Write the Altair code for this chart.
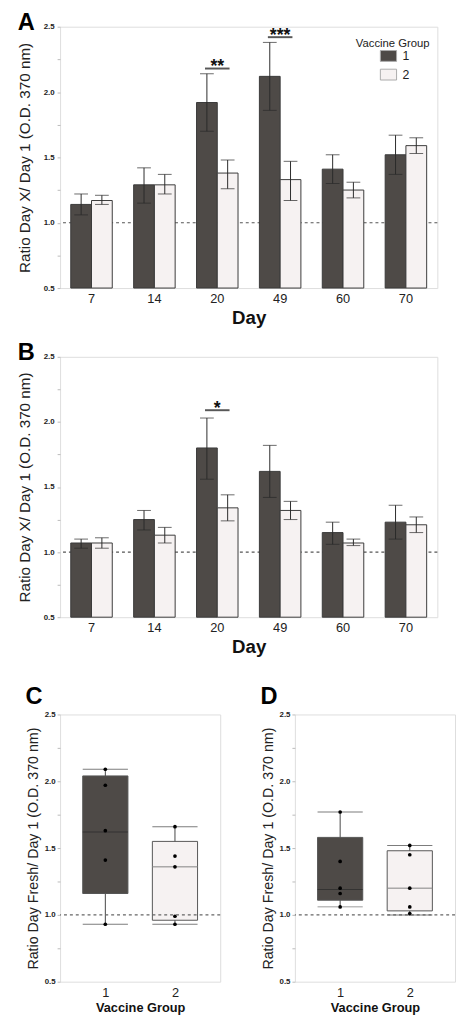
import altair as alt
import pandas as pd

FONT = "Liberation Sans"

days = ["7", "14", "20", "49", "60", "70"]
groups = ["1", "2"]

# Panel A (mean, lower and upper error limits per vaccine group)
a_g1_mean = [1.14, 1.29, 1.92, 2.12, 1.41, 1.52]
a_g1_low = [1.06, 1.15, 1.70, 1.86, 1.30, 1.37]
a_g1_high = [1.22, 1.42, 2.14, 2.38, 1.52, 1.67]
a_g2_mean = [1.17, 1.29, 1.38, 1.33, 1.25, 1.59]
a_g2_low = [1.14, 1.22, 1.26, 1.17, 1.19, 1.53]
a_g2_high = [1.21, 1.37, 1.48, 1.47, 1.31, 1.65]
a_sig_days = ["20", "49"]
a_sig_y = [2.18, 2.42]
a_sig_text = ["**", "***"]

# Panel B
b_g1_mean = [1.07, 1.25, 1.80, 1.62, 1.15, 1.23]
b_g1_low = [1.03, 1.17, 1.56, 1.42, 1.06, 1.10]
b_g1_high = [1.10, 1.32, 2.03, 1.82, 1.23, 1.36]
b_g2_mean = [1.07, 1.13, 1.34, 1.32, 1.07, 1.21]
b_g2_low = [1.03, 1.07, 1.24, 1.25, 1.05, 1.15]
b_g2_high = [1.11, 1.19, 1.44, 1.39, 1.10, 1.27]
b_sig_days = ["20"]
b_sig_y = [2.09]
b_sig_text = ["*"]

# Panel C (box statistics per group and individual points)
c_min = [0.93, 0.93]
c_q1 = [1.16, 0.96]
c_med = [1.62, 1.36]
c_q3 = [2.04, 1.55]
c_max = [2.09, 1.66]
c_pts_g1 = [2.09, 1.97, 1.63, 1.41, 0.93]
c_pts_g2 = [1.66, 1.44, 1.36, 0.99, 0.93]

# Panel D
d_min = [1.06, 1.00]
d_q1 = [1.11, 1.03]
d_med = [1.19, 1.20]
d_q3 = [1.58, 1.48]
d_max = [1.77, 1.52]
d_pts_g1 = [1.77, 1.40, 1.20, 1.16, 1.06]
d_pts_g2 = [1.52, 1.45, 1.20, 1.06, 1.01]

reference_value = [1.0]

DARK = "#4e4a47"
LIGHT = "#f6f2f2"
DARK_BOX = "#57514d"
LIGHT_BOX = "#f8f6f6"

tick_vals = [0.5, 0.75, 1.0, 1.25, 1.5, 1.75, 2.0, 2.25, 2.5]
label_expr = "(datum.value * 2) % 1 == 0 ? format(datum.value, '.1f') : ''"
yscale = alt.Scale(domain=[0.5, 2.5], nice=False, zero=False)


def yaxis(title, size, tpad, lpad):
    return alt.Axis(
        title=title, values=tick_vals, labelExpr=label_expr,
        labelFont=FONT, labelFontSize=8, labelFontWeight="bold", labelColor="#222",
        titleFont=FONT, titleFontSize=size, titleFontWeight="normal", titleColor="#222",
        domain=False, ticks=True, tickSize=3, tickColor="#bbb",
        labelPadding=lpad, titlePadding=tpad, grid=False,
    )


def letter(text, offset):
    return alt.TitleParams(
        text=text, anchor="start", font=FONT, fontSize=24, fontWeight="bold",
        color="black", offset=offset, baseline="alphabetic",
    )


def bar_panel(g1m, g1l, g1h, g2m, g2l, g2h, sig_days, sig_y, sig_text):
    rows = []
    for i, d in enumerate(days):
        rows.append(dict(Day=d, Group="1", mean=g1m[i], low=g1l[i], high=g1h[i]))
        rows.append(dict(Day=d, Group="2", mean=g2m[i], low=g2l[i], high=g2h[i]))
    df = pd.DataFrame(rows)
    sig = pd.DataFrame(dict(Day=sig_days, y=sig_y, label=sig_text))
    ref = pd.DataFrame(dict(ref=reference_value))

    ax = yaxis("Ratio Day X/ Day 1 (O.D. 370 nm)", 15.5, 11, 3)

    def Y(f):
        return alt.Y(f, scale=yscale, axis=ax)

    x = alt.X(
        "Day:N", sort=days,
        scale=alt.Scale(paddingInner=0.34, paddingOuter=0.17),
        axis=alt.Axis(
            title="Day", labelAngle=0, labelFont=FONT, labelFontSize=13, labelColor="#222",
            titleFont=FONT, titleFontSize=19, titleFontWeight="bold", titleColor="#111",
            ticks=False, domain=False, labelPadding=5, titlePadding=3,
        ),
    )
    xo = alt.XOffset("Group:N", sort=groups, scale=alt.Scale(paddingInner=0, paddingOuter=0))

    refline = alt.Chart(ref).mark_rule(color="#555", strokeDash=[3, 3], strokeWidth=1.1).encode(
        y=Y("ref:Q"))
    bars = alt.Chart(df).mark_bar(stroke="#3a3a3a", strokeWidth=1).encode(
        x=x, xOffset=xo, y=Y("mean:Q"), y2=alt.Y2(datum=0.5),
        color=alt.Color(
            "Group:N", sort=groups,
            scale=alt.Scale(domain=groups, range=[DARK, LIGHT]),
            legend=alt.Legend(
                title="Vaccine Group", orient="none", legendX=301, legendY=12,
                titleFont=FONT, titleFontSize=11.5, titleFontWeight="normal", titleColor="#222",
                labelFont=FONT, labelFontSize=12.5, labelColor="#222",
                symbolType="M-1.5,-1L1.5,-1L1.5,1L-1.5,1Z", symbolSize=121,
                symbolStrokeColor="#aaa", symbolStrokeWidth=1, symbolOffset=27,
                rowPadding=3, titlePadding=0, labelOffset=8,
            ),
        ),
    )
    err = alt.Chart(df).mark_rule(color="#2a2a2a", strokeWidth=1).encode(
        x=x, xOffset=xo, y=Y("low:Q"), y2="high:Q")
    cap_lo = alt.Chart(df).mark_tick(color="#2a2a2a", size=14, thickness=1).encode(
        x=x, xOffset=xo, y=Y("low:Q"))
    cap_hi = alt.Chart(df).mark_tick(color="#2a2a2a", size=14, thickness=1).encode(
        x=x, xOffset=xo, y=Y("high:Q"))
    sig_line = alt.Chart(sig).mark_tick(color="#111", size=25, thickness=2).encode(
        x=x, y=Y("y:Q"))
    sig_lab = alt.Chart(sig).mark_text(
        font=FONT, fontSize=18, fontWeight="bold", baseline="alphabetic", dy=4, color="#111"
    ).encode(x=x, y=Y("y:Q"), text="label:N")

    return alt.layer(refline, bars, err, cap_lo, cap_hi, sig_line, sig_lab)


def box_panel(g1pts, g2pts, mn, q1, med, q3, mx):
    stats = pd.DataFrame(dict(Group=groups, lo=mn, q1=q1, med=med, q3=q3, hi=mx))
    pts = pd.DataFrame(dict(Group=["1"] * len(g1pts) + ["2"] * len(g2pts), v=g1pts + g2pts))
    ref = pd.DataFrame(dict(ref=reference_value))
    ax = yaxis("Ratio Day Fresh/ Day 1 (O.D. 370 nm)", 14.5, 4, 2)

    def Y(f):
        return alt.Y(f, scale=yscale, axis=ax)

    x = alt.X(
        "Group:N", sort=groups, scale=alt.Scale(type="point", padding=0.65),
        axis=alt.Axis(
            title="Vaccine Group", labelAngle=0, labelFont=FONT, labelFontSize=13, labelColor="#222",
            titleFont=FONT, titleFontSize=13, titleFontWeight="bold", titleColor="#111",
            ticks=False, domain=False, labelPadding=5, titlePadding=2,
        ),
    )
    whisk = alt.Chart(stats).mark_rule(color="#444", strokeWidth=1).encode(
        x=x, y=Y("lo:Q"), y2="hi:Q")
    cap_lo = alt.Chart(stats).mark_tick(color="#444", size=46, thickness=1).encode(x=x, y=Y("lo:Q"))
    cap_hi = alt.Chart(stats).mark_tick(color="#444", size=46, thickness=1).encode(x=x, y=Y("hi:Q"))
    box = alt.Chart(stats).mark_bar(size=46, stroke="#555", strokeWidth=1).encode(
        x=x, y=Y("q1:Q"), y2="q3:Q",
        color=alt.Color("Group:N", sort=groups,
                        scale=alt.Scale(domain=groups, range=[DARK_BOX, LIGHT_BOX]), legend=None),
    )
    med1 = alt.Chart(stats).transform_filter("datum.Group == '1'").mark_tick(
        color="#2a2a2a", size=46, thickness=1).encode(x=x, y=Y("med:Q"))
    med2 = alt.Chart(stats).transform_filter("datum.Group == '2'").mark_tick(
        color="#8a8a8a", size=46, thickness=1.5).encode(x=x, y=Y("med:Q"))
    dots = alt.Chart(pts).mark_circle(size=14, color="black", opacity=1).encode(x=x, y=Y("v:Q"))
    refline = alt.Chart(ref).mark_rule(color="#666", strokeDash=[3, 3], strokeWidth=1.1).encode(
        y=Y("ref:Q"))
    return alt.layer(whisk, cap_lo, cap_hi, box, med1, med2, dots, refline)


A = bar_panel(a_g1_mean, a_g1_low, a_g1_high, a_g2_mean, a_g2_low, a_g2_high,
              a_sig_days, a_sig_y, a_sig_text).properties(width=384, height=266, title=letter("A", -31))
B = bar_panel(b_g1_mean, b_g1_low, b_g1_high, b_g2_mean, b_g2_low, b_g2_high,
              b_sig_days, b_sig_y, b_sig_text).properties(width=384, height=265, title=letter("B", -31))
C = box_panel(c_pts_g1, c_pts_g2, c_min, c_q1, c_med, c_q3, c_max).properties(
    width=163, height=272, title=letter("C", -17))
D = box_panel(d_pts_g1, d_pts_g2, d_min, d_q1, d_med, d_q3, d_max).properties(
    width=163, height=272, title=letter("D", -17))

top = alt.vconcat(A, B, spacing=12)
bottom = alt.hconcat(C, D, spacing=38)
chart = alt.vconcat(top, bottom, spacing=27).properties(
    padding={"left": 9, "top": -7, "right": 0, "bottom": 0}
).configure_view(stroke="#d4ccc6", strokeWidth=1).configure(background="white")

chart.save("out.html", embed_options={"renderer": "svg", "actions": False})
